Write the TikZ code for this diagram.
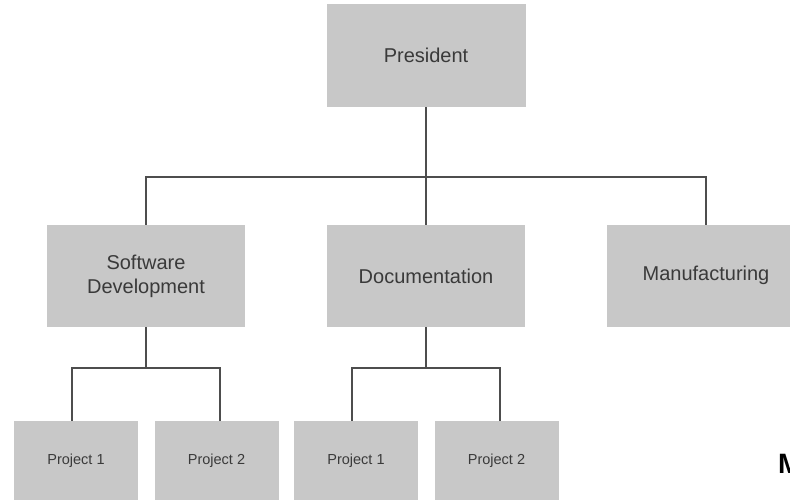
\documentclass[tikz,border=0pt]{standalone}
\usepackage{fontspec}
\setmainfont{Liberation Sans}
\begin{document}
\begin{tikzpicture}[x=1pt,y=-1pt,
  box/.style={rectangle, fill=boxgray, inner sep=0pt, align=center,
    text=labelgray, font=\fontsize{20}{24}\selectfont},
  bigbox/.style={box, minimum width=198pt, minimum height=102pt},
  projbox/.style={box, minimum width=124pt, minimum height=80pt,
    font=\fontsize{14.5}{17}\selectfont},
  conn/.style={draw=linegray, line width=1.8pt}]
\definecolor{boxgray}{HTML}{C8C8C8}
\definecolor{linegray}{HTML}{4D4D4D}
\definecolor{labelgray}{HTML}{3A3A3A}
\useasboundingbox (0,0) rectangle (790,499);
\fill[white] (0,0) rectangle (790,499);

% top level
\node[bigbox, minimum width=199pt, minimum height=103pt] (pres) at (426,55.5) {President};

% departments
\node[bigbox] (sd)  at (146,276) {Software\\Development};
\node[bigbox] (doc) at (426,276) {Documentation};
\node[bigbox] (man) at (706,276) {\raisebox{6pt}{Manufacturing}};

% projects
\node[projbox] (sdp1)  at (76,461)  {Project 1};
\node[projbox] (sdp2)  at (216.5,461) {Project 2};
\node[projbox] (docp1) at (356,461) {Project 1};
\node[projbox] (docp2) at (496.5,461) {Project 2};

% partly visible heading at the right edge
\node[anchor=base west, inner sep=0pt, text=black,
  font=\bfseries\fontsize{28}{30}\selectfont] (mtxt) at (778,473) {M};

% connectors
\coordinate (bus) at (0,177);
\coordinate (bus2) at (0,368);
\draw[conn] (pres.south) -- (pres.south |- bus);
\draw[conn] (sd.north) -- (sd.north |- bus) -- (man.north |- bus) -- (man.north);
\draw[conn] (doc.north) -- (doc.north |- bus);

\draw[conn] (sd.south) -- (sd.south |- bus2);
\draw[conn] ([xshift=-4pt]sdp1.north) -- ([xshift=-4pt]sdp1.north |- bus2)
  -- ([xshift=3.5pt]sdp2.north |- bus2) -- ([xshift=3.5pt]sdp2.north);
\draw[conn] (doc.south) -- (doc.south |- bus2);
\draw[conn] ([xshift=-4pt]docp1.north) -- ([xshift=-4pt]docp1.north |- bus2)
  -- ([xshift=3.5pt]docp2.north |- bus2) -- ([xshift=3.5pt]docp2.north);
\end{tikzpicture}
\end{document}
